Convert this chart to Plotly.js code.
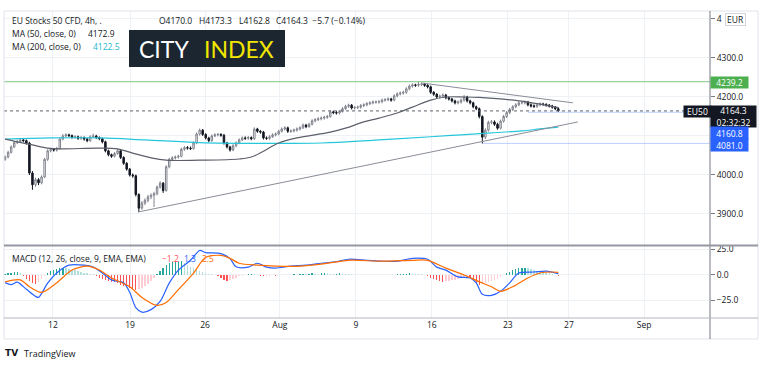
<!DOCTYPE html>
<html><head><meta charset="utf-8">
<script src="https://cdn.plot.ly/plotly-3.0.1.min.js"></script>
<style>html,body{margin:0;padding:0;background:#fff;}#chart{width:771px;height:373px;}</style>
</head><body><div id="chart"></div>
<script>
// ---- price bars (4h, index = bar number) ----
const opens = [4040,4046,4058,4072,4083,4086,4090,4088,4082,4005,
3975,3988,3980,3995,4040,4062,4066,4064,4068,4092,
4100,4103,4101,4097,4098,4094,4096,4092,4088,4098,
4100,4096,4093,4085,4062,4052,4048,4055,4062,4045,
4030,4015,4000,3998,3950,3915,3928,3935,3944,3948,
3952,3969,3979,3960,4021,4040,4044,4046,4048,4066,
4070,4069,4068,4082,4105,4115,4104,4095,4088,4100,
4103,4104,4102,4082,4072,4064,4075,4082,4090,4095,
4094,4096,4093,4118,4112,4110,4095,4094,4098,4103,
4105,4112,4118,4121,4112,4113,4115,4118,4121,4128,
4124,4130,4139,4142,4144,4146,4148,4150,4162,4160,
4159,4163,4170,4176,4179,4172,4173,4174,4178,4180,
4183,4185,4187,4187,4188,4192,4193,4195,4192,4203,
4208,4210,4212,4221,4228,4231,4230,4232,4233,4230,
4226,4212,4207,4200,4202,4205,4198,4195,4190,4185,
4187,4192,4200,4190,4185,4175,4170,4150,4097,4115,
4135,4136,4130,4120,4138,4150,4160,4168,4175,4180,
4185,4185,4187,4180,4177,4176,4180,4182,4181,4179,
4177,4174,4170];
const highs = [4050,4062,4076,4087,4091,4094,4093,4091,4085,4010,
3993,3992,3999,4044,4066,4070,4069,4072,4096,4105,
4107,4106,4104,4102,4101,4100,4099,4095,4102,4106,
4103,4099,4096,4088,4065,4055,4059,4067,4065,4048,
4033,4018,4004,4001,3953,3933,3940,3949,3953,3957,
3973,3984,3982,4025,4044,4048,4050,4052,4070,4074,
4074,4073,4086,4109,4119,4118,4107,4098,4104,4107,
4108,4107,4105,4085,4075,4079,4086,4094,4099,4099,
4100,4099,4122,4121,4115,4113,4099,4102,4107,4109,
4116,4122,4125,4124,4117,4119,4122,4125,4132,4131,
4134,4143,4146,4148,4150,4152,4154,4166,4165,4164,
4167,4174,4180,4183,4182,4177,4178,4182,4184,4187,
4189,4191,4191,4192,4196,4197,4199,4198,4207,4212,
4214,4216,4225,4232,4235,4234,4239.2,4237,4236,4233,
4229,4215,4210,4206,4209,4208,4201,4198,4193,4191,
4196,4205,4203,4193,4188,4178,4173,4153,4120,4139,
4141,4140,4134,4142,4154,4164,4172,4179,4184,4189,
4189,4191,4190,4184,4181,4184,4186,4185,4184,4182,
4180,4177,4173.3];
const lows = [4036,4043,4055,4069,4079,4082,4084,4078,4000,3962,
3970,3974,3976,3992,4036,4058,4060,4060,4065,4089,
4097,4097,4093,4093,4090,4090,4088,4084,4085,4095,
4092,4089,4081,4058,4048,4044,4045,4052,4041,4026,
4011,3996,3993,3945,3905,3911,3923,3930,3938,3918,
3948,3965,3954,3957,4017,4036,4040,4042,4045,4062,
4065,4064,4065,4079,4101,4100,4091,4084,4085,4097,
4099,4098,4078,4068,4060,4061,4071,4079,4087,4090,
4090,4089,4090,4108,4106,4091,4090,4090,4095,4099,
4102,4109,4114,4108,4108,4109,4111,4114,4118,4120,
4121,4127,4135,4138,4140,4142,4144,4147,4156,4155,
4155,4160,4167,4172,4168,4168,4169,4170,4174,4176,
4179,4181,4183,4183,4184,4188,4189,4188,4189,4199,
4204,4206,4208,4217,4224,4226,4226,4228,4226,4222,
4208,4203,4196,4196,4198,4194,4191,4186,4181,4181,
4183,4188,4186,4181,4171,4166,4145,4081,4092,4111,
4130,4126,4116,4117,4134,4146,4156,4164,4171,4176,
4181,4181,4176,4173,4172,4172,4176,4177,4175,4173,
4170,4166,4162.8];
const closes = [4046,4058,4072,4083,4086,4090,4088,4082,4005,3975,
3988,3980,3995,4040,4062,4066,4064,4068,4092,4100,
4103,4101,4097,4098,4094,4096,4092,4088,4098,4100,
4096,4093,4085,4062,4052,4048,4055,4062,4045,4030,
4015,4000,3998,3950,3915,3928,3935,3944,3948,3952,
3969,3979,3960,4021,4040,4044,4046,4048,4066,4070,
4069,4068,4082,4105,4115,4104,4095,4088,4100,4103,
4104,4102,4082,4072,4064,4075,4082,4090,4095,4094,
4096,4093,4118,4112,4110,4095,4094,4098,4103,4105,
4112,4118,4121,4112,4113,4115,4118,4121,4128,4124,
4130,4139,4142,4144,4146,4148,4150,4162,4160,4159,
4163,4170,4176,4179,4172,4173,4174,4178,4180,4183,
4185,4187,4187,4188,4192,4193,4195,4192,4203,4208,
4210,4212,4221,4228,4231,4230,4232,4233,4230,4226,
4212,4207,4200,4202,4205,4198,4195,4190,4185,4187,
4192,4200,4190,4185,4175,4170,4150,4097,4115,4135,
4136,4130,4120,4138,4150,4160,4168,4175,4180,4185,
4185,4187,4180,4177,4176,4180,4182,4181,4179,4177,
4174,4170,4164.3];

// ---- moving averages (read at sample bars) ----
const ma50Idx = [0,4,9,14,18,31,37,42,48,53,64,77,81,85,90,96,107,112,118,123,129,134,140,145,151,156,163,172,182];
const ma50Val = [4092,4085,4077,4069,4067,4069,4067,4056,4044,4038,4038,4041,4046,4061,4082,4095,4110,4120,4136,4146,4159,4174,4192,4200,4200,4199,4195,4187,4172.9];
const ma200Idx = [0,15,31,46,64,84,104,123,140,150,160,170,176,182];
const ma200Val = [4092,4095,4095,4090,4083,4081,4082,4090,4098,4103,4108,4113,4118,4122.5];

// ---- drawings ----
const trendLowIdx = [43.7,188.4], trendLowVal = [3905,4136];
const trendHighIdx = [137,186.8], trendHighVal = [4236,4185];
const resistLevel = 4239.2, lastPrice = 4164.3;
const blueLevels = [4160.8, 4081.0], blueStartIdx = [172, 157];

// ---- MACD ----
const hist = [1,1.5,2,2.5,2.5,1.5,-1,-4,-6,-8,
-8.5,-7,-4,-1,2,3.5,5,6,6.5,7,
6.5,6,5,4.5,3.5,3,2,1.5,1,0.5,
-1,-2.5,-4,-5,-6,-6.5,-7,-8,-9.5,-11,
-12,-13,-14,-14.5,-14,-13,-11,-9,-6,-3,
1,4,7,10,12,13,13.5,14,14,12,
10,8,6.5,5,4,3,2,1,0.5,-0.5,
-1.5,-3,-4.5,-5.5,-5,-4,-2.5,-1.5,-1,-0.5,
0.5,1,0.5,-0.5,-1,-1.5,-1,-0.8,-0.5,-1,
-0.5,0.3,-0.3,-0.5,0.3,0.5,0.3,0.5,1,0.8,
1.2,1.5,1.2,1,1.5,1.8,1.5,1.3,1,1.2,
1.5,1.2,1,0.8,0.5,0.3,0.2,-0.3,-0.5,-0.3,
-0.5,-0.3,0.2,0.3,0.2,-0.3,-0.5,-0.3,0.3,0.5,
0.8,1,1.2,1.5,1.3,1,0.8,0.5,-0.5,-1.5,
-3,-4,-5,-6,-6.5,-6,-5.5,-5,-4.5,-3.5,
-3,-2.5,-2,-3,-6,-9,-10,-9,-8,-7,
-6,-5,-3.5,-2,-0.5,1.5,3,4.5,5.5,6.5,
7,7,6.5,5.5,4.5,3.5,3,2.5,2,1.5,
0.5,-0.5,-1.2];
const macdIdx = [0,2,4,7,10,11,14,17,21,26,29,32,35,39,41,43,45,48,51,54,57,61,64,66,71,74,76,80,83,86,89,94,99,104,108,113,119,124,129,134,139,142,145,149,153,155,157,160,163,166,169,174,178,182];
const macdVal = [-7.5,-9.5,-7,-14,-21,-22,-8,2,9.6,9.6,7.7,2,-4.8,-7.7,-17,-32,-36.5,-34,-26,-8,4.8,14.4,24,22,21,16,8,7.7,11.5,7.7,6.7,8.7,9.6,11.5,12.5,15.4,14.4,13.5,13.5,16.3,15.4,7.7,4.8,-1.9,-2.9,-7.7,-19,-20,-16,-7.7,1.9,2.9,3.8,1.3];
const sigIdx = [0,5,8,12,17,22,27,31,35,41,45,50,53,57,62,66,71,74,77,83,89,97,104,113,124,134,139,145,151,156,160,163,167,172,176,180,182];
const sigVal = [-6.7,-4.8,-11.5,-17,-7.7,4.8,8.7,4.8,-2.9,-11.5,-22,-29.8,-27,-14.4,1.9,17.3,19.2,16.3,11.5,9.6,8.7,8.7,10.6,14.4,13.5,14.4,14.4,6.7,0,-6.7,-11.5,-16,-11.5,-2.9,1.9,2.9,2.5];

// ---- axis labels ----
const xTickIdx = [15.75,41.1,65.8,90.4,115.4,140.4,165.4,185.5,210.2];
const xTickText = ['12','19','26','Aug','9','16','23','27','Sep'];
const priceTicks = [3900,4000,4100,4200,4300,4400];
const priceTickText = ['3900.0','4000.0','','4200.0','4300.0','4'];
const macdTicks = [25,0,-25];
const macdTickText = ['25.0','0.0','\u221225.0'];

// ---- rendering ----
const L=4,R=710,T=11,B=318;
const px = x => (x-L)/(R-L);
const py = y => (B-y)/(B-T);
const FONT = '"Open Sans", sans-serif';
const TXT = '#131722';
const idx = closes.map((_,i)=>i);
const histColors = hist.map((h,i)=>{const p=i?hist[i-1]:h; return h>=0?(h>=p?'#26a69a':'#b2dfdb'):(h<p?'#ff5252':'#ffcdd2');});
const XMAX = 231.9;

const traces = [
  {type:'bar', x:idx, y:hist, xaxis:'x', yaxis:'y2', marker:{color:histColors, line:{width:0}}, width:0.45, hoverinfo:'skip'},
  {type:'scatter', mode:'lines', x:macdIdx, y:macdVal, xaxis:'x', yaxis:'y2', line:{color:'#2962ff', width:1.2, shape:'spline', smoothing:0.8}},
  {type:'scatter', mode:'lines', x:sigIdx, y:sigVal, xaxis:'x', yaxis:'y2', line:{color:'#ff6d00', width:1.2, shape:'spline', smoothing:0.8}},
  {type:'scatter', mode:'lines', x:ma200Idx, y:ma200Val, line:{color:'#26c6da', width:1.2, shape:'spline'}},
  {type:'scatter', mode:'lines', x:ma50Idx, y:ma50Val, line:{color:'#5d606b', width:1.2, shape:'spline'}},
  {type:'scatter', mode:'lines', x:trendLowIdx, y:trendLowVal, line:{color:'#8a8d96', width:1}},
  {type:'scatter', mode:'lines', x:trendHighIdx, y:trendHighVal, line:{color:'#8a8d96', width:1}},
  {type:'candlestick', x:idx, open:opens, high:highs, low:lows, close:closes, xaxis:'x', yaxis:'y',
   increasing:{line:{color:'#80838d', width:1}, fillcolor:'#ffffff'},
   decreasing:{line:{color:'#131722', width:1}, fillcolor:'#131722'}, whiskerwidth:0, hoverinfo:'skip'}
];

const shapes = [
  {type:'line', xref:'paper', yref:'y', x0:0, x1:1, y0:resistLevel, y1:resistLevel, line:{color:'#81c784', width:1}},
  {type:'line', xref:'paper', yref:'y', x0:0, x1:1, y0:lastPrice, y1:lastPrice, line:{color:'#5d606b', width:1, dash:'dot'}},
  {type:'line', xref:'x', yref:'y', x0:blueStartIdx[0], x1:XMAX, y0:blueLevels[0], y1:blueLevels[0], line:{color:'rgba(41,98,255,0.3)', width:1}},
  {type:'line', xref:'x', yref:'y', x0:blueStartIdx[1], x1:XMAX, y0:blueLevels[1], y1:blueLevels[1], line:{color:'rgba(41,98,255,0.3)', width:1}},
  {type:'rect', xref:'paper', yref:'paper', x0:px(4), x1:px(758), y0:py(11), y1:py(339), line:{color:'#e0e3eb', width:1}},
  {type:'line', xref:'paper', yref:'paper', x0:px(710), x1:px(710), y0:py(11), y1:py(339), line:{color:'#787b86', width:1}},
  {type:'line', xref:'paper', yref:'paper', x0:px(4), x1:px(758), y0:py(245.5), y1:py(245.5), line:{color:'#9598a1', width:2}},
  {type:'line', xref:'paper', yref:'paper', x0:px(4), x1:px(758), y0:py(318), y1:py(318), line:{color:'#b2b5be', width:1}},
  {type:'rect', xref:'paper', yref:'paper', x0:px(129), x1:px(285), y0:py(30), y1:py(67), fillcolor:'#1b2631', line:{width:0}, layer:'above'}
];

function txt(x,y,text,opt){
  return Object.assign({xref:'paper', yref:'paper', x:px(x), y:py(y), text:text, showarrow:false, xanchor:'left', yanchor:'middle',
    font:{family:FONT, size:8.5, color:TXT}}, opt||{});
}
function badge(x,y,w,h,text,bg,fc){
  return {xref:'paper', yref:'paper', x:px(x), y:py(y), text:text, showarrow:false, xanchor:'left', yanchor:'middle',
    width:w, height:h, bgcolor:bg, borderpad:0, align:'center', font:{family:FONT, size:8.5, color:fc||'#ffffff'}};
}
const annotations = [
  txt(10,20,'EU Stocks 50 CFD, 4h, .'),
  txt(157,20,'O4170.0'), txt(197,20,'H4173.3'), txt(237,20,'L4162.8'), txt(274,20,'C4164.3\u00a0\u00a0\u22125.7 (\u22120.14%)'),
  txt(10,33,'MA (50, close, 0)'), txt(86,33,'4172.9'),
  txt(10,46,'MA (200, close, 0)'), txt(91,46,'4122.5',{font:{family:FONT,size:8.5,color:'#22b8cf'}}),
  txt(10,258,'MACD (12, 26, close, 9, EMA, EMA)'),
  txt(160,258,'\u22121.2',{font:{family:FONT,size:8.5,color:'#ff5252'}}),
  txt(182,258,'1.3',{font:{family:FONT,size:8.5,color:'#2962ff'}}),
  txt(200,258,'2.5',{font:{family:FONT,size:8.5,color:'#ff6d00'}}),
  {xref:'paper', yref:'paper', x:px(164), y:py(49), text:'CITY', showarrow:false, xanchor:'center', yanchor:'middle', font:{family:'Lato, sans-serif', size:23, color:'#ffffff'}},
  {xref:'paper', yref:'paper', x:px(239.5), y:py(49), text:'INDEX', showarrow:false, xanchor:'center', yanchor:'middle', font:{family:'Lato, sans-serif', size:23, color:'#f2e600'}},
  badge(725,19.5,19,11,'EUR','#ffffff',TXT),
  badge(710,82.5,37,11,'4239.2','#4caf50'),
  badge(683,111.5,27,11,'EU50','#131722'),
  badge(710,116.5,45,21,'4164.3<br>02:32:32','#131722'),
  badge(710,133,37,12,'4160.8','#2962ff'),
  badge(710,145,37,12,'4081.0','#2962ff'),
  txt(3,353,'<b>TV</b>',{font:{family:'DejaVu Sans, sans-serif',size:9,color:TXT}}),
  txt(22,353,'TradingView',{font:{family:FONT,size:9,color:TXT}})
];
annotations[15].bordercolor = '#d1d4dc'; annotations[15].borderwidth = 1;

const layout = {
  width:771, height:373, margin:{l:4, r:61, t:11, b:55},
  paper_bgcolor:'#ffffff', plot_bgcolor:'#ffffff', showlegend:false, bargap:0,
  font:{family:FONT, size:8.5, color:TXT},
  xaxis:{range:[-0.36, XMAX], anchor:'y2', tickmode:'array', tickvals:xTickIdx, ticktext:xTickText,
    showgrid:true, gridcolor:'#eef1f6', zeroline:false, showline:false, ticks:'', rangeslider:{visible:false}, fixedrange:true,
    tickfont:{family:FONT, size:8.5, color:TXT}},
  yaxis:{domain:[0.2378,1], range:[3820.5,4420.5], side:'right', tickmode:'array', tickvals:priceTicks, ticktext:priceTickText,
    showgrid:true, gridcolor:'#eef1f6', zeroline:false, showline:false, ticks:'outside', ticklen:4, tickcolor:'#787b86',
    tickfont:{family:FONT, size:8.5, color:TXT}, fixedrange:true},
  yaxis2:{domain:[0,0.2345], range:[-42.2,28.4], side:'right', tickmode:'array', tickvals:macdTicks, ticktext:macdTickText,
    showgrid:true, gridcolor:'#eef1f6', zeroline:false, showline:false, ticks:'outside', ticklen:4, tickcolor:'#787b86',
    tickfont:{family:FONT, size:8.5, color:TXT}, fixedrange:true},
  shapes:shapes, annotations:annotations
};
Plotly.newPlot('chart', traces, layout, {staticPlot:true, displayModeBar:false});
</script>
</body></html>
